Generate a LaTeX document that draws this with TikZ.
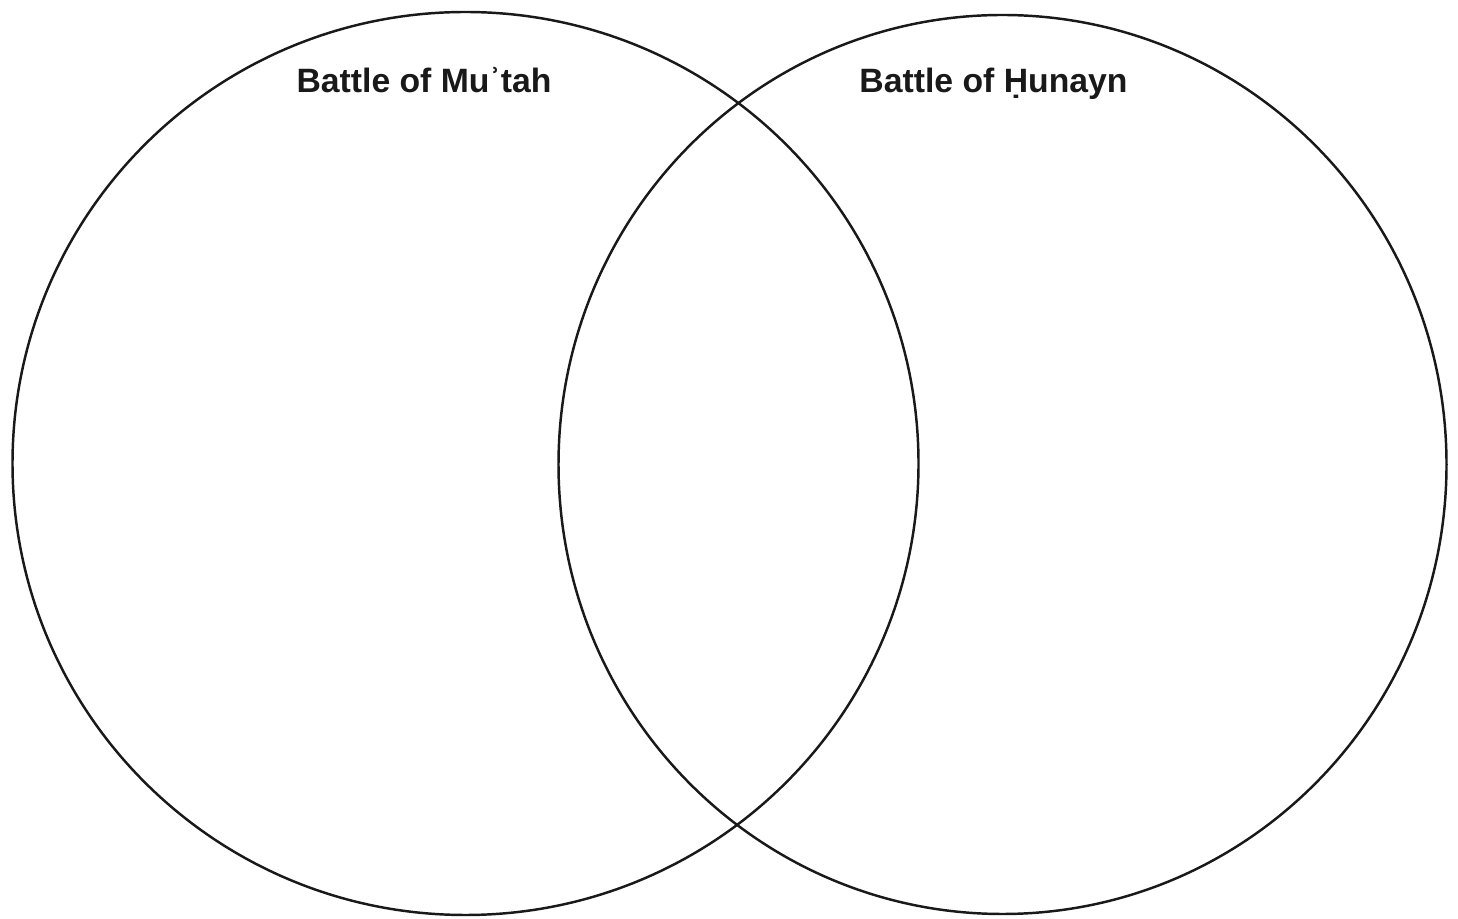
\documentclass[tikz,border=0pt]{standalone}
\usepackage{fontspec}
\setmainfont{Liberation Sans}
\usepackage{tikz}
\usetikzlibrary{positioning,shapes.geometric}

\begin{document}
\begin{tikzpicture}[
  set/.style={ellipse, draw=black!90, line width=1.4pt, inner sep=0pt},
  title/.style={font=\bfseries\fontsize{19.2}{23}\selectfont, text=black!90, inner sep=0pt, anchor=base}
]
\useasboundingbox (0,0) rectangle (29.16,18.36);
\node[set, minimum width=18.12cm, minimum height=18.06cm] (mutah) at (9.31,9.09) {};
\node[set, minimum width=17.76cm, minimum height=17.98cm] (hunayn) at (20.05,9.07) {};

\node[title] (mutahlabel) at (8.48,16.5) {Battle of Muʾtah};
\node[title] (hunaynlabel) at (19.87,16.5) {Battle of Ḥunayn};
\end{tikzpicture}
\end{document}
